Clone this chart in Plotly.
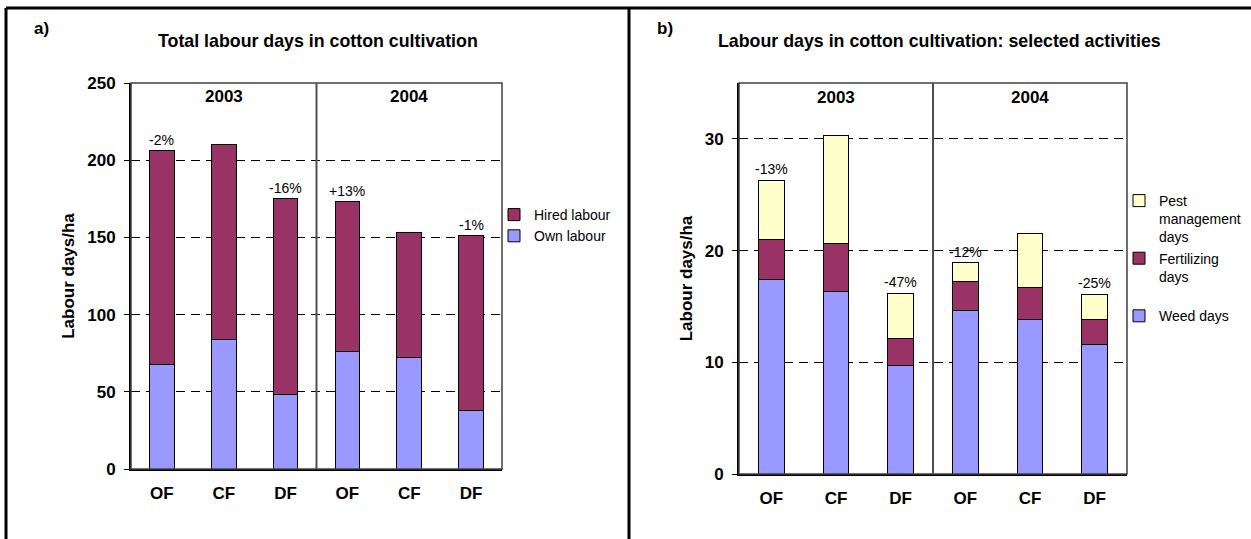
import plotly.graph_objects as go

# categories (x positions 0..5), two years of three farm types
farm_types = ["OF", "CF", "DF", "OF", "CF", "DF"]
years = ["2003", "2004"]

# panel a: total labour days/ha
own_labour = [68, 84, 48, 76, 72, 38]
hired_labour = [138, 126, 127, 97, 81, 113]
pct_a = ["-2%", "", "-16%", "+13%", "", "-1%"]

# panel b: selected activities, days/ha
weed_days = [17.4, 16.3, 9.7, 14.6, 13.8, 11.6]
fertilizing_days = [3.6, 4.3, 2.4, 2.6, 2.9, 2.2]
pest_days = [5.3, 9.7, 4.1, 1.7, 4.8, 2.3]
pct_b = ["-13%", "", "-47%", "-12%", "", "-25%"]

colors = {
    'own': '#9999FF',
    'hired': '#993366',
    'pest': '#FFFFCC',
}

W, H = 1251, 539
FONT = "Arial, Liberation Sans, sans-serif"
BOLD = 17
TITLE = 17.8
REG = 14
x_idx = list(range(len(farm_types)))


def px(x):
    return x / W


def py(y):
    return 1 - y / H


fig = go.Figure()

bar_line = dict(color='black', width=1)

fig.add_trace(go.Bar(x=x_idx, y=own_labour, name='Own labour', marker_color=colors['own'],
                     marker_line=bar_line, width=0.4, xaxis='x', yaxis='y', legend='legend'))
fig.add_trace(go.Bar(x=x_idx, y=hired_labour, name='Hired labour', marker_color=colors['hired'],
                     marker_line=bar_line, width=0.4, xaxis='x', yaxis='y', legend='legend'))

fig.add_trace(go.Bar(x=x_idx, y=weed_days, name='Weed days', marker_color=colors['own'],
                     marker_line=bar_line, width=0.4, xaxis='x2', yaxis='y2', legend='legend2'))
fig.add_trace(go.Bar(x=x_idx, y=fertilizing_days, name='Fertilizing<br>days<br> ',
                     marker_color=colors['hired'], marker_line=bar_line, width=0.4,
                     xaxis='x2', yaxis='y2', legend='legend2'))
fig.add_trace(go.Bar(x=x_idx, y=pest_days, name='Pest<br>management<br>days',
                     marker_color=colors['pest'], marker_line=bar_line, width=0.4,
                     xaxis='x2', yaxis='y2', legend='legend2'))

axis_common = dict(
    showline=True, linecolor='black', linewidth=2, automargin=False,
    tickfont=dict(family=FONT, size=BOLD, color='black', weight='bold'),
)

fig.update_layout(
    width=W, height=H,
    margin=dict(l=0, r=0, t=0, b=0, pad=0, autoexpand=False),
    paper_bgcolor='white', plot_bgcolor='white',
    barmode='stack', bargap=0.6,
    font=dict(family=FONT, color='black'),
    xaxis=dict(domain=[px(131), px(502)], range=[-0.5, 5.5], tickvals=x_idx, ticktext=farm_types,
               showgrid=False, ticks='', ticklabelstandoff=8, anchor='y', **axis_common),
    yaxis=dict(domain=[py(469), py(83)], range=[0, 250], dtick=50, ticks='outside', ticklen=5,
               tickcolor='black', showgrid=True, gridcolor='black', gridwidth=1, griddash='9px,6px',
               zeroline=False, ticklabelstandoff=5, anchor='x',
               title=dict(text='<b>Labour days/ha</b>', font=dict(family=FONT, size=BOLD), standoff=8),
               **axis_common),
    xaxis2=dict(domain=[px(739), px(1127)], range=[-0.5, 5.5], tickvals=x_idx, ticktext=farm_types,
                showgrid=False, ticks='', ticklabelstandoff=8, anchor='y2', **axis_common),
    yaxis2=dict(domain=[py(474), py(83)], range=[0, 35], dtick=10, ticks='outside', ticklen=5,
                tickcolor='black', showgrid=True, gridcolor='black', gridwidth=1, griddash='9px,6px',
                zeroline=False, ticklabelstandoff=5, anchor='x2',
                title=dict(text='<b>Labour days/ha</b>', font=dict(family=FONT, size=BOLD), standoff=8),
                **axis_common),
    legend=dict(x=px(494), y=py(199), xanchor='left', yanchor='top', traceorder='reversed',
                font=dict(family=FONT, size=REG), bgcolor='rgba(0,0,0,0)'),
    legend2=dict(x=px(1119), y=py(185), xanchor='left', yanchor='top', traceorder='reversed',
                 valign='top', font=dict(family=FONT, size=REG), bgcolor='rgba(0,0,0,0)'),
    showlegend=True,
)

# plot area frames (grey top/right) and year dividers
for xr, yr in [('x', 'y'), ('x2', 'y2')]:
    fig.add_shape(type='rect', xref=f'{xr} domain', yref=f'{yr} domain', x0=0, x1=1, y0=0, y1=1,
                  line=dict(color='#404040', width=1.5), layer='above')
    fig.add_shape(type='line', xref=xr, yref=f'{yr} domain', x0=2.5, x1=2.5, y0=0, y1=1,
                  line=dict(color='#505050', width=2), layer='above')

# year labels
for xr, yr in [('x', 'y'), ('x2', 'y2')]:
    for i, yr_lbl in enumerate(years):
        fig.add_annotation(x=1 + 3 * i, y=0.964, xref=xr, yref=f'{yr} domain', text=f'<b>{yr_lbl}</b>',
                           showarrow=False, font=dict(family=FONT, size=BOLD), yanchor='middle')

# percentage change labels above bars
totals_a = [o + h for o, h in zip(own_labour, hired_labour)]
totals_b = [w + f + p for w, f, p in zip(weed_days, fertilizing_days, pest_days)]
for xr, yr, totals, pcts in [('x', 'y', totals_a, pct_a), ('x2', 'y2', totals_b, pct_b)]:
    for i, (t, lbl) in enumerate(zip(totals, pcts)):
        if lbl:
            fig.add_annotation(x=i, y=t, xref=xr, yref=yr, text=lbl, showarrow=False,
                               yanchor='bottom', yshift=1, font=dict(family=FONT, size=REG))

# panel letters and titles
fig.add_annotation(x=px(32), y=py(28), xref='paper', yref='paper', text='<b>a)</b>', showarrow=False,
                   xanchor='left', yanchor='middle', font=dict(family=FONT, size=BOLD))
fig.add_annotation(x=px(318), y=py(41), xref='paper', yref='paper',
                   text='<b>Total labour days in cotton cultivation</b>', showarrow=False,
                   xanchor='center', yanchor='middle', font=dict(family=FONT, size=TITLE))
fig.add_annotation(x=px(655), y=py(28), xref='paper', yref='paper', text='<b>b)</b>', showarrow=False,
                   xanchor='left', yanchor='middle', font=dict(family=FONT, size=BOLD))
fig.add_annotation(x=px(940), y=py(41), xref='paper', yref='paper',
                   text='<b>Labour days in cotton cultivation: selected activities</b>', showarrow=False,
                   xanchor='center', yanchor='middle', font=dict(family=FONT, size=TITLE))

# outer figure frame
frame = dict(color='black', width=3)
fig.add_shape(type='line', xref='paper', yref='paper', x0=px(6), x1=1, y0=py(8), y1=py(8), line=frame)
fig.add_shape(type='line', xref='paper', yref='paper', x0=px(6), x1=px(6), y0=py(8), y1=0, line=frame)
fig.add_shape(type='line', xref='paper', yref='paper', x0=px(629), x1=px(629), y0=py(8), y1=0, line=frame)

# no page margin, so the figure sits exactly in the window
fig.write_html("out.html", config={'displayModeBar': False},
               post_script="document.body.style.margin='0';document.body.style.overflow='hidden';")
